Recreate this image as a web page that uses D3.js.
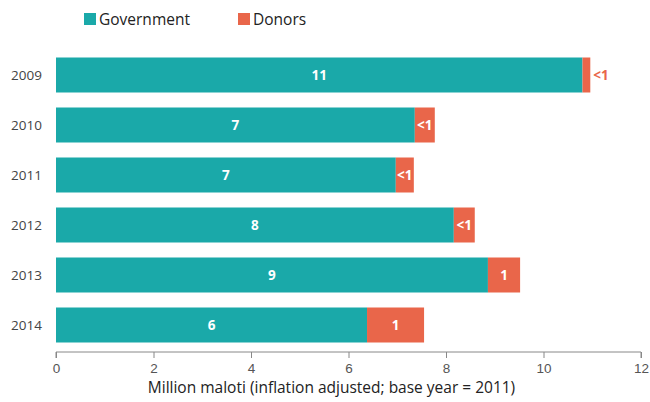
<!DOCTYPE html>
<html>
<head>
<meta charset="utf-8">
<script src="https://cdn.jsdelivr.net/npm/d3@7"></script>
<style>
  body { margin: 0; background: #fff; }
  svg { display: block; font-family: "Open Sans", "Noto Sans", sans-serif; }
</style>
</head>
<body>
<div id="chart"></div>
<script>
// data
const years = ['2009', '2010', '2011', '2012', '2013', '2014'];
const government = [10.8, 7.36, 6.97, 8.16, 8.86, 6.38];
const donors = [0.16, 0.41, 0.37, 0.43, 0.66, 1.17];
const govLabels = ['11', '7', '7', '8', '9', '6'];
const donorLabels = ['<1', '<1', '<1', '<1', '1', '1'];
const xTicks = [0, 2, 4, 6, 8, 10, 12];

const W = 650, H = 402;
const TEAL = '#1aa9a9', ORANGE = '#e9664a';
const margin = { top: 50, left: 56, right: 9, bottom: 50 };

const svg = d3.select('#chart').append('svg').attr('width', W).attr('height', H);

const x = d3.scaleLinear().domain([0, 12]).range([margin.left, W - margin.right]);
const y = d3.scaleBand().domain(years).range([50, 350]).paddingInner(0.3).paddingOuter(0.15);

const rows = years.map((yr, i) => ({ yr, g: government[i], d: donors[i], gl: govLabels[i], dl: donorLabels[i] }));

// legend
const legend = svg.append('g');
[['Government', TEAL, 84], ['Donors', ORANGE, 238]].forEach(([name, col, lx]) => {
  legend.append('rect').attr('x', lx).attr('y', 13).attr('width', 12).attr('height', 12).attr('fill', col);
  legend.append('text').attr('x', lx + 15).attr('y', 25).attr('font-size', 15.5).attr('fill', '#222').text(name);
});

// bars
const bar = svg.append('g').selectAll('g').data(rows).join('g');
bar.append('rect').attr('x', x(0)).attr('y', d => y(d.yr))
  .attr('width', d => x(d.g) - x(0)).attr('height', y.bandwidth()).attr('fill', TEAL);
bar.append('rect').attr('x', d => x(d.g)).attr('y', d => y(d.yr))
  .attr('width', d => x(d.g + d.d) - x(d.g)).attr('height', y.bandwidth()).attr('fill', ORANGE);

bar.append('text').attr('x', d => (x(0) + x(d.g)) / 2).attr('y', d => y(d.yr) + y.bandwidth() / 2)
  .attr('dy', '0.35em').attr('text-anchor', 'middle').attr('font-size', 13.5).attr('font-weight', 'bold')
  .attr('fill', '#fff').text(d => d.gl);

// donor labels: inside when the segment is wide enough, otherwise to the right
const wide = d => x(d.g + d.d) - x(d.g) > 15;
bar.append('text')
  .attr('x', d => (wide(d) ? (x(d.g) + x(d.g + d.d)) / 2 : x(d.g + d.d) + 3))
  .attr('y', d => y(d.yr) + y.bandwidth() / 2)
  .attr('dy', '0.35em')
  .attr('text-anchor', d => (wide(d) ? 'middle' : 'start'))
  .attr('font-size', 13.5).attr('font-weight', 'bold')
  .attr('fill', d => (wide(d) ? '#fff' : ORANGE))
  .text(d => d.dl);

// year labels
svg.append('g').selectAll('text').data(years).join('text')
  .attr('x', 42).attr('y', d => y(d) + y.bandwidth() / 2).attr('dy', '0.35em')
  .attr('text-anchor', 'end').attr('font-size', 13.5).attr('fill', '#444').text(d => d);

// x axis
const axis = svg.append('g').attr('transform', 'translate(0,352)')
  .call(d3.axisBottom(x).tickValues(xTicks).tickSize(6).tickPadding(5));
axis.select('.domain').attr('stroke', '#888').attr('d', `M${x(0)},6V0H${x(12)}V6`);
axis.selectAll('.tick line').attr('stroke', '#888');
axis.selectAll('.tick text').attr('font-size', 13.5).attr('fill', '#555').attr('font-family', 'inherit');

svg.append('text').attr('x', (x(0) + x(12)) / 2 - 17).attr('y', 393).attr('text-anchor', 'middle')
  .attr('font-size', 15.5).attr('fill', '#222').text('Million maloti (inflation adjusted; base year = 2011)');
</script>
</body>
</html>
